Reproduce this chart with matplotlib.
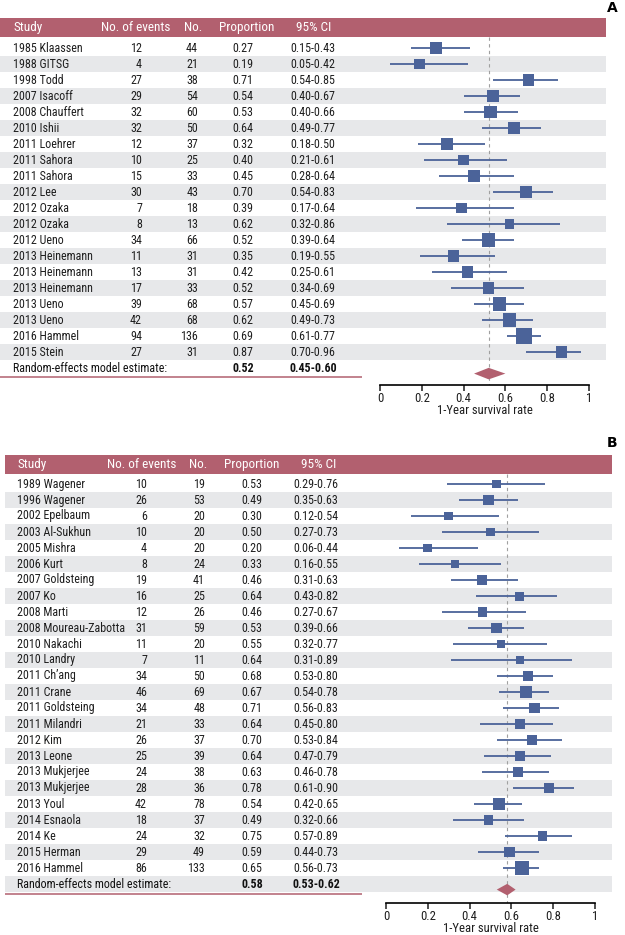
import matplotlib
matplotlib.use("Agg")
import matplotlib.pyplot as plt
import matplotlib.font_manager as fm
from matplotlib.textpath import TextPath
from matplotlib.patches import Polygon
import numpy as np

# ---------------- data: panel A ----------------
studies_a = ["1985 Klaassen", "1988 GITSG", "1998 Todd", "2007 Isacoff", "2008 Chauffert",
             "2010 Ishii", "2011 Loehrer", "2011 Sahora", "2011 Sahora", "2012 Lee",
             "2012 Ozaka", "2012 Ozaka", "2012 Ueno", "2013 Heinemann", "2013 Heinemann",
             "2013 Heinemann", "2013 Ueno", "2013 Ueno", "2016 Hammel", "2015 Stein"]
events_a = [12, 4, 27, 29, 32, 32, 12, 10, 15, 30, 7, 8, 34, 11, 13, 17, 39, 42, 94, 27]
n_a = [44, 21, 38, 54, 60, 50, 37, 25, 33, 43, 18, 13, 66, 31, 31, 33, 68, 68, 136, 31]
prop_a = [0.27, 0.19, 0.71, 0.54, 0.53, 0.64, 0.32, 0.40, 0.45, 0.70, 0.39, 0.62, 0.52,
          0.35, 0.42, 0.52, 0.57, 0.62, 0.69, 0.87]
lo_a = [0.15, 0.05, 0.54, 0.40, 0.40, 0.49, 0.18, 0.21, 0.28, 0.54, 0.17, 0.32, 0.39,
        0.19, 0.25, 0.34, 0.45, 0.49, 0.61, 0.70]
hi_a = [0.43, 0.42, 0.85, 0.67, 0.66, 0.77, 0.50, 0.61, 0.64, 0.83, 0.64, 0.86, 0.64,
        0.55, 0.61, 0.69, 0.69, 0.73, 0.77, 0.96]
summary_a = (0.52, 0.45, 0.60)

# ---------------- data: panel B ----------------
studies_b = ["1989 Wagener", "1996 Wagener", "2002 Epelbaum", "2003 Al-Sukhun", "2005 Mishra",
             "2006 Kurt", "2007 Goldsteing", "2007 Ko", "2008 Marti", "2008 Moureau-Zabotta",
             "2010 Nakachi", "2010 Landry", "2011 Ch\u2019ang", "2011 Crane", "2011 Goldsteing",
             "2011 Milandri", "2012 Kim", "2013 Leone", "2013 Mukjerjee", "2013 Mukjerjee",
             "2013 Youl", "2014 Esnaola", "2014 Ke", "2015 Herman", "2016 Hammel"]
events_b = [10, 26, 6, 10, 4, 8, 19, 16, 12, 31, 11, 7, 34, 46, 34, 21, 26, 25, 24, 28,
            42, 18, 24, 29, 86]
n_b = [19, 53, 20, 20, 20, 24, 41, 25, 26, 59, 20, 11, 50, 69, 48, 33, 37, 39, 38, 36,
       78, 37, 32, 49, 133]
prop_b = [0.53, 0.49, 0.30, 0.50, 0.20, 0.33, 0.46, 0.64, 0.46, 0.53, 0.55, 0.64, 0.68,
          0.67, 0.71, 0.64, 0.70, 0.64, 0.63, 0.78, 0.54, 0.49, 0.75, 0.59, 0.65]
lo_b = [0.29, 0.35, 0.12, 0.27, 0.06, 0.16, 0.31, 0.43, 0.27, 0.39, 0.32, 0.31, 0.53,
        0.54, 0.56, 0.45, 0.53, 0.47, 0.46, 0.61, 0.42, 0.32, 0.57, 0.44, 0.56]
hi_b = [0.76, 0.63, 0.54, 0.73, 0.44, 0.55, 0.63, 0.82, 0.67, 0.66, 0.77, 0.89, 0.80,
        0.78, 0.83, 0.80, 0.84, 0.79, 0.78, 0.90, 0.65, 0.66, 0.89, 0.73, 0.73]
summary_b = (0.58, 0.53, 0.62)

headers = ["Study", "No. of events", "No.", "Proportion", "95% CI"]
xticks = [0, 0.2, 0.4, 0.6, 0.8, 1]
xticklabels = ["0", "0.2", "0.4", "0.6", "0.8", "1"]
xlabel = "1-Year survival rate"
summary_label = "Random-effects model estimate:"

# ---------------- font: pick the narrowest installed sans face ----------------
ALLOWED = ("dejavu sans", "liberation sans", "noto sans", "roboto", "open sans", "lato", "inter")
SAMPLE = "Random-effects model estimate:"


def _regular(f):
    return f.style == "normal" and f.weight in (400, "normal", "regular", "book")


best, best_ratio = None, None
for f in fm.fontManager.ttflist:
    nm = f.name.lower()
    if not nm.startswith(ALLOWED) or "mono" in nm or "cjk" in nm or "serif" in nm \
            or "display" in nm or not _regular(f):
        continue
    try:
        p = fm.FontProperties(fname=f.fname)
        ext = TextPath((0, 0), SAMPLE, size=10, prop=p).get_extents()
        h_ext = TextPath((0, 0), "H", size=10, prop=p).get_extents()
        ratio = ext.width / h_ext.height
    except Exception:
        continue
    if best_ratio is None or ratio < best_ratio:
        best, best_ratio = f, ratio

if best is not None:
    FONT = fm.FontProperties(fname=best.fname)
    w10 = TextPath((0, 0), SAMPLE, size=10, prop=FONT).get_extents().width
    FS = 10 * 153.0 / (w10 * 100 / 72)
    BOLD_FP = None
    for g in fm.fontManager.ttflist:
        if g.name == best.name and g.stretch == best.stretch and g.style == "normal" \
                and g.weight in (700, "bold"):
            BOLD_FP = g.fname
            break
else:
    FONT = fm.FontProperties(family=["DejaVu Sans"])
    FS = 7.0
    BOLD_FP = None


def fprop(bold=False, size=None):
    size = size or FS
    if bold and BOLD_FP:
        p = fm.FontProperties(fname=BOLD_FP)
    elif bold and best is not None:
        p = fm.FontProperties(family=best.name, stretch=best.stretch, weight="bold")
    else:
        p = FONT.copy()
    p.set_size(size)
    return p


# ---------------- style ----------------
W, H = 625, 935
ROSE = "#b2606f"
GREY = "#e7e8ea"
BLUE = "#4b6399"
TXT = "#1e1e1e"

fig = plt.figure(figsize=(W / 100, H / 100), dpi=100)


def panel(letter, letter_y, top_px, row1_px, axis_px, x0_px, x1_px, left_px, right_px,
          underline_px, cols, hcols, studies, events, n, prop, lo, hi, summary, size_fn):
    step = 16.0
    idx = lambda px: (px - row1_px) / step + 1
    ax_h = axis_px - top_px
    ax = fig.add_axes([0, (H - axis_px) / H, 1, ax_h / H])
    scale = x1_px - x0_px
    ax.set_xlim(-x0_px / scale, (W - x0_px) / scale)
    ax.set_ylim(idx(axis_px), idx(top_px))
    ax.patch.set_alpha(0)
    tr = ax.get_yaxis_transform()
    xl, xr = left_px / W, right_px / W

    # header bar
    hdr_bot = idx(top_px + 18.5)
    ax.axhspan(idx(top_px), hdr_bot, xmin=xl, xmax=xr, color=ROSE, lw=0, zorder=0)
    hy = (idx(top_px) + hdr_bot) / 2
    for (xp, ha), t in zip(hcols, headers):
        ax.text(xp / W, hy, t, transform=tr, ha=ha, va="center", color="white",
                fontproperties=fprop(size=FS * 1.1), zorder=3)

    nrows = len(studies)
    for r in range(1, nrows + 2):
        if r % 2 == 0:
            ax.axhspan(r - 0.5, r + 0.5, xmin=xl, xmax=xr, color=GREY, lw=0, zorder=0)

    rows = np.arange(1, nrows + 1)
    (sx, sha), (ex, eha), (nx, nha), (px_, pha), (cx, cha) = cols
    tp = fprop()
    for r, s, e, nn, p, l, h in zip(rows, studies, events, n, prop, lo, hi):
        ax.text(sx / W, r, s, transform=tr, ha=sha, va="center", fontproperties=tp, color=TXT)
        ax.text(ex / W, r, str(e), transform=tr, ha=eha, va="center", fontproperties=tp, color=TXT)
        ax.text(nx / W, r, str(nn), transform=tr, ha=nha, va="center", fontproperties=tp, color=TXT)
        ax.text(px_ / W, r, f"{p:.2f}", transform=tr, ha=pha, va="center", fontproperties=tp, color=TXT)
        ax.text(cx / W, r, f"{l:.2f}-{h:.2f}", transform=tr, ha=cha, va="center", fontproperties=tp, color=TXT)

    srow = nrows + 1
    est, slo, shi = summary
    ax.text(sx / W, srow, summary_label, transform=tr, ha=sha, va="center",
            fontproperties=tp, color="#111")
    bp = fprop(bold=True)
    ax.text(px_ / W, srow, f"{est:.2f}", transform=tr, ha=pha, va="center",
            fontproperties=bp, color="#111")
    ax.text(cx / W, srow, f"{slo:.2f}-{shi:.2f}", transform=tr, ha=cha, va="center",
            fontproperties=bp, color="#111")
    ax.plot([xl, 362 / W], [idx(underline_px)] * 2, transform=tr, color=ROSE, lw=1.1,
            solid_capstyle="butt", zorder=3)

    # reference dashed line
    ax.plot([est, est], [hdr_bot, idx(axis_px)], color="#a0a0a0", lw=0.8,
            ls=(0, (3, 3)), zorder=1)

    # CIs and squares
    ax.hlines(rows, lo, hi, color=BLUE, lw=1.3, zorder=2)
    sizes = [(size_fn(v) * 0.72) ** 2 for v in n]
    ax.scatter(prop, rows, s=sizes, marker="s", color=BLUE, lw=0, zorder=3)

    # diamond
    dy = srow + 0.35
    dh = 0.36
    ax.add_patch(Polygon([[slo, dy], [est, dy - dh], [shi, dy], [est, dy + dh]],
                         closed=True, color=ROSE, lw=0, zorder=3))

    # axis
    for sp in ["top", "left", "right"]:
        ax.spines[sp].set_visible(False)
    ax.spines["bottom"].set_bounds(0, 1)
    ax.spines["bottom"].set_linewidth(1.2)
    ax.set_yticks([])
    ax.set_xticks(xticks)
    ax.set_xticklabels(xticklabels)
    for lab in ax.get_xticklabels():
        lab.set_fontproperties(fprop(size=FS * 1.05))
    ax.tick_params(axis="x", direction="out", length=4, width=1.1, pad=1, colors=TXT)
    ax.set_xlabel(xlabel, fontproperties=fprop(size=FS * 1.05), color=TXT)
    ax.xaxis.set_label_coords((x0_px + 0.5 * scale) / W, -19.0 / ax_h)
    ax.xaxis.label.set_verticalalignment("top")

    fig.text(612 / W, 1 - letter_y / H, letter, ha="center", va="center", fontsize=10,
             fontweight="bold", family="DejaVu Sans")


panel("A", 8, 18, 48, 385, 380, 589, 0, 606, 377,
      [(13, "left"), (142, "right"), (198, "right"), (243, "center"), (313, "center")],
      [(13, "left"), (136, "center"), (193, "center"), (247, "center"), (314, "center")],
      studies_a, events_a, n_a, prop_a, lo_a, hi_a, summary_a,
      lambda v: 7 + 0.75 * np.sqrt(v))

panel("B", 443, 455, 484, 903, 386, 595, 5, 612, 894,
      [(17, "left"), (147, "right"), (205, "right"), (252, "center"), (316, "center")],
      [(18, "left"), (142, "center"), (198, "center"), (252, "center"), (319, "center")],
      studies_b, events_b, n_b, prop_b, lo_b, hi_b, summary_b,
      lambda v: 5.5 + 0.7 * np.sqrt(v))

fig.savefig("out.png", dpi=100)
